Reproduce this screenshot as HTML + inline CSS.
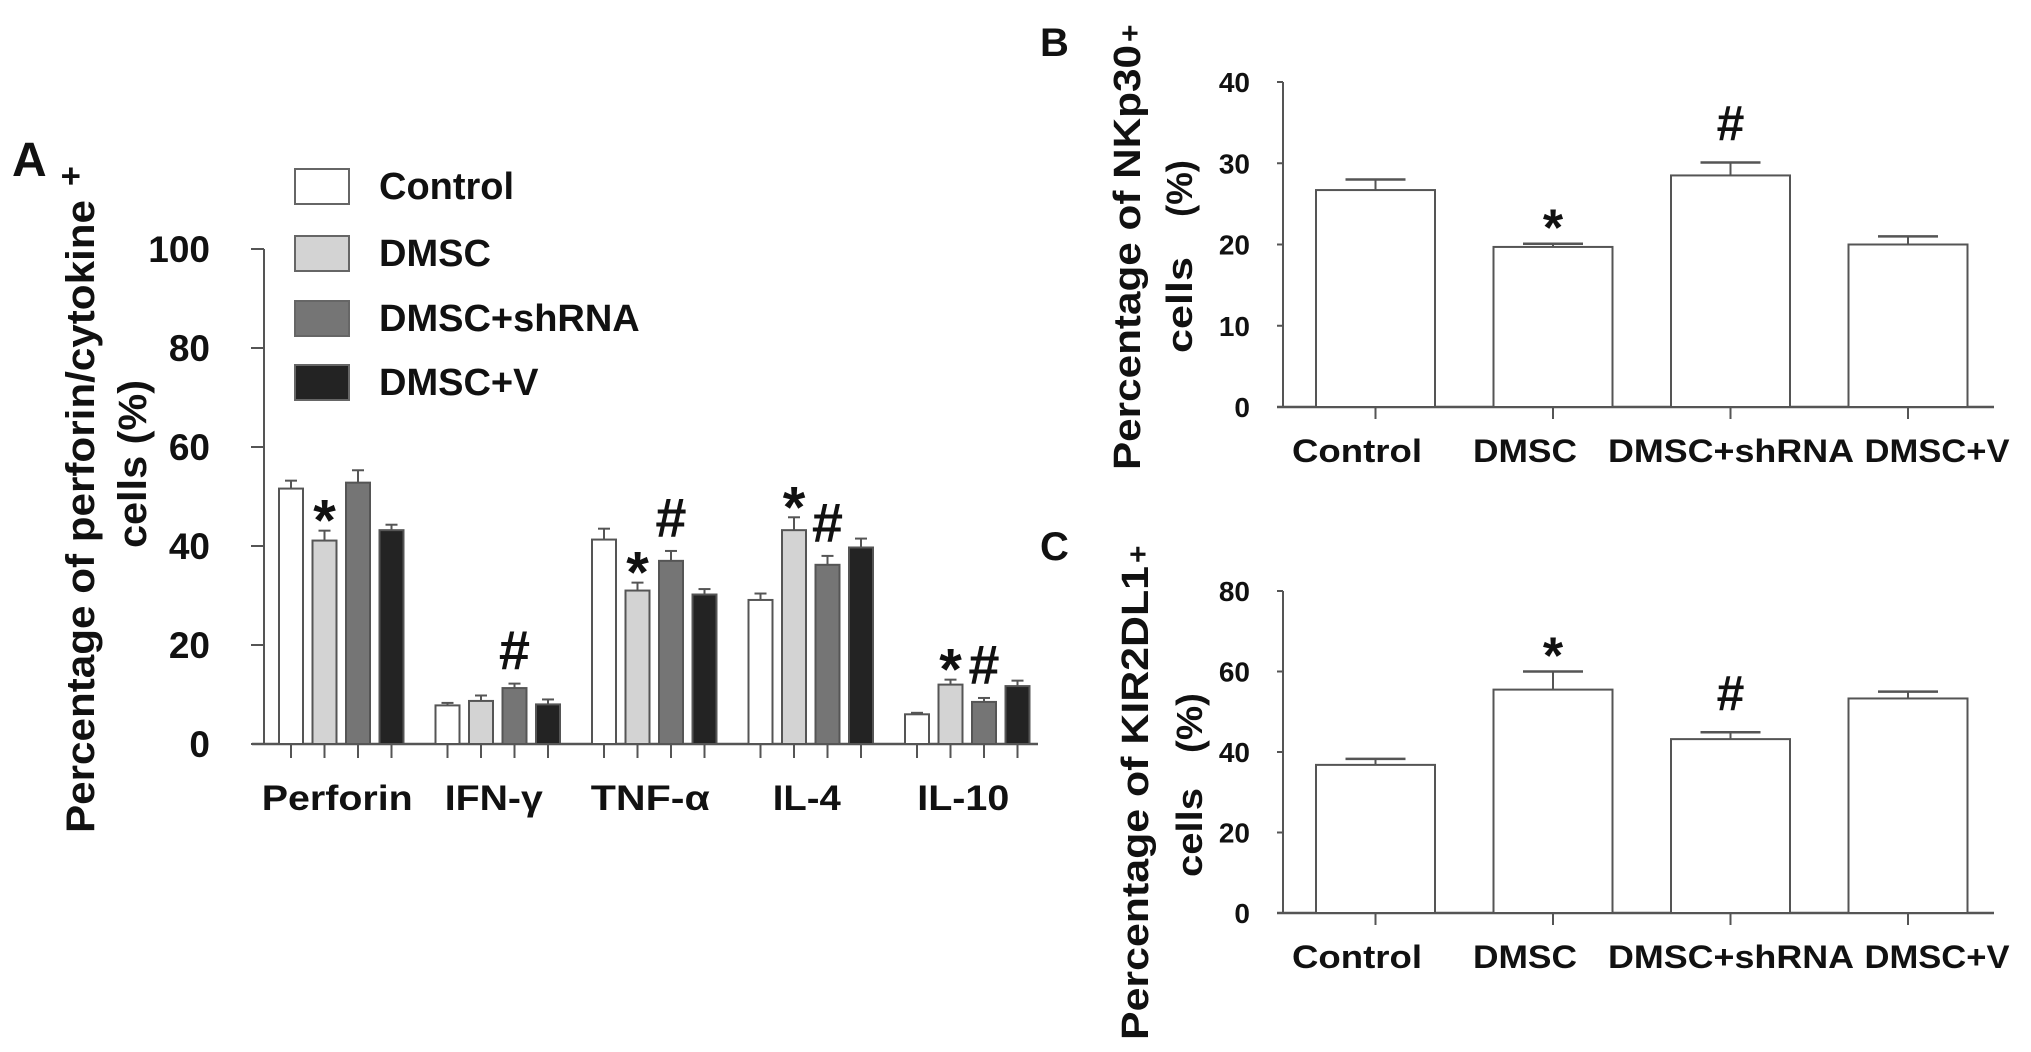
<!DOCTYPE html>
<html><head><meta charset="utf-8"><style>
html,body{margin:0;padding:0;background:#fff;}
svg{display:block;font-family:"Liberation Sans",Arial,sans-serif;font-weight:bold;}
</style></head><body>
<svg id="fig" width="2031" height="1052" viewBox="0 0 2031 1052" xmlns="http://www.w3.org/2000/svg">
<rect x="0" y="0" width="2031" height="1052" fill="#fff"/>
<g id="panelA"></g>
<g id="panelB"></g>
<g id="panelC"></g>
</svg>
<script>
// ---- Panel A data ----
const aCategories = ["Perforin", "IFN-\u03b3", "TNF-\u03b1", "IL-4", "IL-10"];
const aSeries = ["Control", "DMSC", "DMSC+shRNA", "DMSC+V"];
const aControl = [51.6, 7.8, 41.3, 29.1, 6.0];
const aDMSC = [41.1, 8.7, 31.0, 43.2, 12.0];
const aShRNA = [52.8, 11.3, 37.0, 36.2, 8.5];
const aV = [43.2, 8.0, 30.2, 39.7, 11.7];
const aControlErr = [1.6, 0.5, 2.2, 1.3, 0.3];
const aDMSCErr = [2.0, 1.1, 1.6, 2.6, 1.0];
const aShRNAErr = [2.5, 0.9, 2.0, 1.8, 0.8];
const aVErr = [1.1, 1.0, 1.1, 1.8, 1.1];
const aTicks = [0, 20, 40, 60, 80, 100];
const aMarkCat = [0, 1, 2, 2, 3, 3, 4, 4];
const aMarkSer = [1, 2, 1, 2, 1, 2, 1, 2];
const aMarkSym = ["*", "#", "*", "#", "*", "#", "*", "#"];
// ---- Panel B data ----
const bCategories = ["Control", "DMSC", "DMSC+shRNA", "DMSC+V"];
const bValues = [26.7, 19.7, 28.5, 20.0];
const bErr = [1.3, 0.4, 1.6, 1.0];
const bTicks = [0, 10, 20, 30, 40];
const bMarks = ["", "*", "#", ""];
// ---- Panel C data ----
const cCategories = ["Control", "DMSC", "DMSC+shRNA", "DMSC+V"];
const cValues = [36.8, 55.5, 43.2, 53.3];
const cErr = [1.5, 4.5, 1.7, 1.7];
const cTicks = [0, 20, 40, 60, 80];
const cMarks = ["", "*", "#", ""];

const NS = "http://www.w3.org/2000/svg";
function mk(parent, tag, attrs, text) {
  const e = document.createElementNS(NS, tag);
  for (const k in attrs) e.setAttribute(k, attrs[k]);
  if (text !== undefined) e.textContent = text;
  parent.appendChild(e);
  return e;
}
const AX = "#555";

// ================= Panel A =================
(function () {
  const g = document.getElementById("panelA");
  const y0 = 744, yTop = 249, axX = 264, xEnd = 1038;
  const ymax = 100;
  const y = v => y0 - (v / ymax) * (y0 - yTop);
  const gStart = 279, gPitch = 156.5, bPitch = 33.5, bW = 24;
  const bx = (c, s) => gStart + c * gPitch + s * bPitch;
  const fills = ["#ffffff", "#d3d3d3", "#757575", "#232323"];
  const vals = [aControl, aDMSC, aShRNA, aV];
  const errs = [aControlErr, aDMSCErr, aShRNAErr, aVErr];

  let t = mk(g, "text", {x: 12, y: 176, "font-size": 48, fill: "#111"}, "A");
  
  

  let l = mk(g, "line", {x1: axX, y1: yTop, x2: axX, y2: y0, stroke: AX, "stroke-width": 2});
  
  
  l = mk(g, "line", {x1: 252, y1: y0, x2: xEnd, y2: y0, stroke: AX, "stroke-width": 2.5});
  
  
  aTicks.forEach(v => {
    const tk = mk(g, "line", {x1: 251, y1: y(v), x2: axX, y2: y(v), stroke: AX, "stroke-width": 2});
    
    
    const tl = mk(g, "text", {x: 210, y: y(v) + 13, "font-size": 37, "text-anchor": "end", fill: "#111"}, String(v));
    
    
  });

  t = mk(g, "text", {transform: "translate(94,833) rotate(-90)", "font-size": 40, fill: "#111", textLength: 633, lengthAdjust: "spacingAndGlyphs"}, "Percentage of perforin/cytokine");
  
  
  t = mk(g, "text", {transform: "translate(82,186) rotate(-90)", "font-size": 34, fill: "#111"}, "+");
  
  
  t = mk(g, "text", {transform: "translate(146,548) rotate(-90)", "font-size": 40, fill: "#111", textLength: 168, lengthAdjust: "spacingAndGlyphs"}, "cells (%)");
  
  

  for (let s = 0; s < 4; s++) {
    for (let c = 0; c < aCategories.length; c++) {
      const x = bx(c, s), v = vals[s][c], e = errs[s][c];
      const cx = x + bW / 2;
      const el = mk(g, "line", {x1: cx, y1: y(v), x2: cx, y2: y(v + e), stroke: "#555", "stroke-width": 2});
      
      
      const cap = mk(g, "line", {x1: cx - 6, y1: y(v + e), x2: cx + 6, y2: y(v + e), stroke: "#555", "stroke-width": 2});
      
      
      const r = mk(g, "rect", {x: x, y: y(v), width: bW, height: y0 - y(v), fill: fills[s], stroke: "#555", "stroke-width": 2});
      
      
      const bt = mk(g, "line", {x1: cx, y1: y0, x2: cx, y2: y0 + 14, stroke: AX, "stroke-width": 2});
      
      
    }
  }
  const labW = [151, 98, 119, 68, 92];
  aCategories.forEach((cName, c) => {
    const cx = bx(c, 0) + (3 * bPitch + bW) / 2;
    const tl = mk(g, "text", {x: cx - 4, y: 810, "font-size": 35, "text-anchor": "middle", fill: "#111", textLength: labW[c], lengthAdjust: "spacingAndGlyphs"}, cName);
    
    
  });
  for (let i = 0; i < aMarkCat.length; i++) {
    const c = aMarkCat[i], s = aMarkSer[i];
    const top = vals[s][c] + errs[s][c];
    const cx = bx(c, s) + bW / 2;
    const sym = aMarkSym[i];
    const by = sym === "*" ? y(top) + 10 : y(top) - 14;
    const m = mk(g, "text", {x: cx, y: by, "font-size": sym === "*" ? 58 : 56, "text-anchor": "middle", fill: "#111"}, sym);
    
    
  }
  const ly = [169, 236, 301, 365];
  aSeries.forEach((name, s) => {
    const r = mk(g, "rect", {x: 295, y: ly[s], width: 54, height: 35, fill: fills[s], stroke: "#666", "stroke-width": 2});
    
    
    const tx = mk(g, "text", {x: 379, y: ly[s] + 30, "font-size": 38, fill: "#111"}, name);
    
    
  });
})();

// ================= Panels B & C =================
function simplePanel(id, letter, letterY, values, errs, cats, ticks, marks, y0, yTop, ymax, labY, title, titleBottom, titleLen, supY, paren, cells) {
  const g = document.getElementById(id);
  const axX = 1283, xEnd = 1994;
  const y = v => y0 - (v / ymax) * (y0 - yTop);
  const bStart = 1316, bPitch = 177.5, bW = 119;
  const p = id === "panelB" ? "b" : "c";
  let t = mk(g, "text", {x: 1040, y: letterY, "font-size": 40, fill: "#111"}, letter);
  
  
  let l = mk(g, "line", {x1: axX, y1: yTop, x2: axX, y2: y0, stroke: AX, "stroke-width": 2});
  
  
  l = mk(g, "line", {x1: 1277, y1: y0, x2: xEnd, y2: y0, stroke: AX, "stroke-width": 2.5});
  
  
  ticks.forEach(v => {
    const tk = mk(g, "line", {x1: 1277, y1: y(v), x2: axX, y2: y(v), stroke: AX, "stroke-width": 2});
    
    
    const tl = mk(g, "text", {x: 1250, y: y(v) + 10, "font-size": 28, "text-anchor": "end", fill: "#111"}, String(v));
    
    
  });
  const labW = [130, 104, 246, 145];
  const labX = [1357, 1525, 1731, 1937];
  values.forEach((v, i) => {
    const x = bStart + i * bPitch, cx = x + bW / 2, e = errs[i];
    const el = mk(g, "line", {x1: cx, y1: y(v), x2: cx, y2: y(v + e), stroke: "#555", "stroke-width": 2});
    
    
    const cap = mk(g, "line", {x1: cx - 30, y1: y(v + e), x2: cx + 30, y2: y(v + e), stroke: "#555", "stroke-width": 2.5});
    
    
    const r = mk(g, "rect", {x: x, y: y(v), width: bW, height: y0 - y(v), fill: "#fff", stroke: "#555", "stroke-width": 2});
    
    
    const bt = mk(g, "line", {x1: cx, y1: y0, x2: cx, y2: y0 + 12, stroke: AX, "stroke-width": 2});
    
    
    const tl = mk(g, "text", {x: labX[i], y: labY, "font-size": 32, "text-anchor": "middle", fill: "#111", textLength: labW[i], lengthAdjust: "spacingAndGlyphs"}, cats[i]);
    
    
    if (marks[i]) {
      const sym = marks[i];
      const by = sym === "*" ? y(v + e) + 2 : y(v + e) - 22;
      const m = mk(g, "text", {x: cx, y: by, "font-size": sym === "*" ? 52 : 50, "text-anchor": "middle", fill: "#111"}, sym);
      
      
    }
  });
  t = mk(g, "text", {transform: "translate(" + (id === "panelB" ? 1140 : 1148) + "," + titleBottom + ") rotate(-90)", "font-size": 38, fill: "#111", textLength: titleLen, lengthAdjust: "spacingAndGlyphs"}, title);
  
  
  t = mk(g, "text", {transform: "translate(" + (id === "panelB" ? 1140 : 1148) + "," + supY + ") rotate(-90)", "font-size": 30, fill: "#111"}, "+");
  
  
  const l2x = id === "panelB" ? 1192 : 1202;
  t = mk(g, "text", {transform: "translate(" + l2x + "," + paren[1] + ") rotate(-90)", "font-size": 36, fill: "#111", textLength: paren[1] - paren[0], lengthAdjust: "spacingAndGlyphs"}, "(%)");
  
  
  t = mk(g, "text", {transform: "translate(" + l2x + "," + cells[1] + ") rotate(-90)", "font-size": 36, fill: "#111", textLength: cells[1] - cells[0], lengthAdjust: "spacingAndGlyphs"}, "cells");
  
  
}
simplePanel("panelB", "B", 56, bValues, bErr, bCategories, bTicks, bMarks, 407, 82, 40, 462,
  "Percentage of NKp30", 470, 425, 42, [160, 217], [257, 353]);
simplePanel("panelC", "C", 560, cValues, cErr, cCategories, cTicks, cMarks, 913, 591, 80, 968,
  "Percentage  of KIR2DL1", 1040, 474, 563, [693, 753], [788, 877]);
</script>
</body></html>
